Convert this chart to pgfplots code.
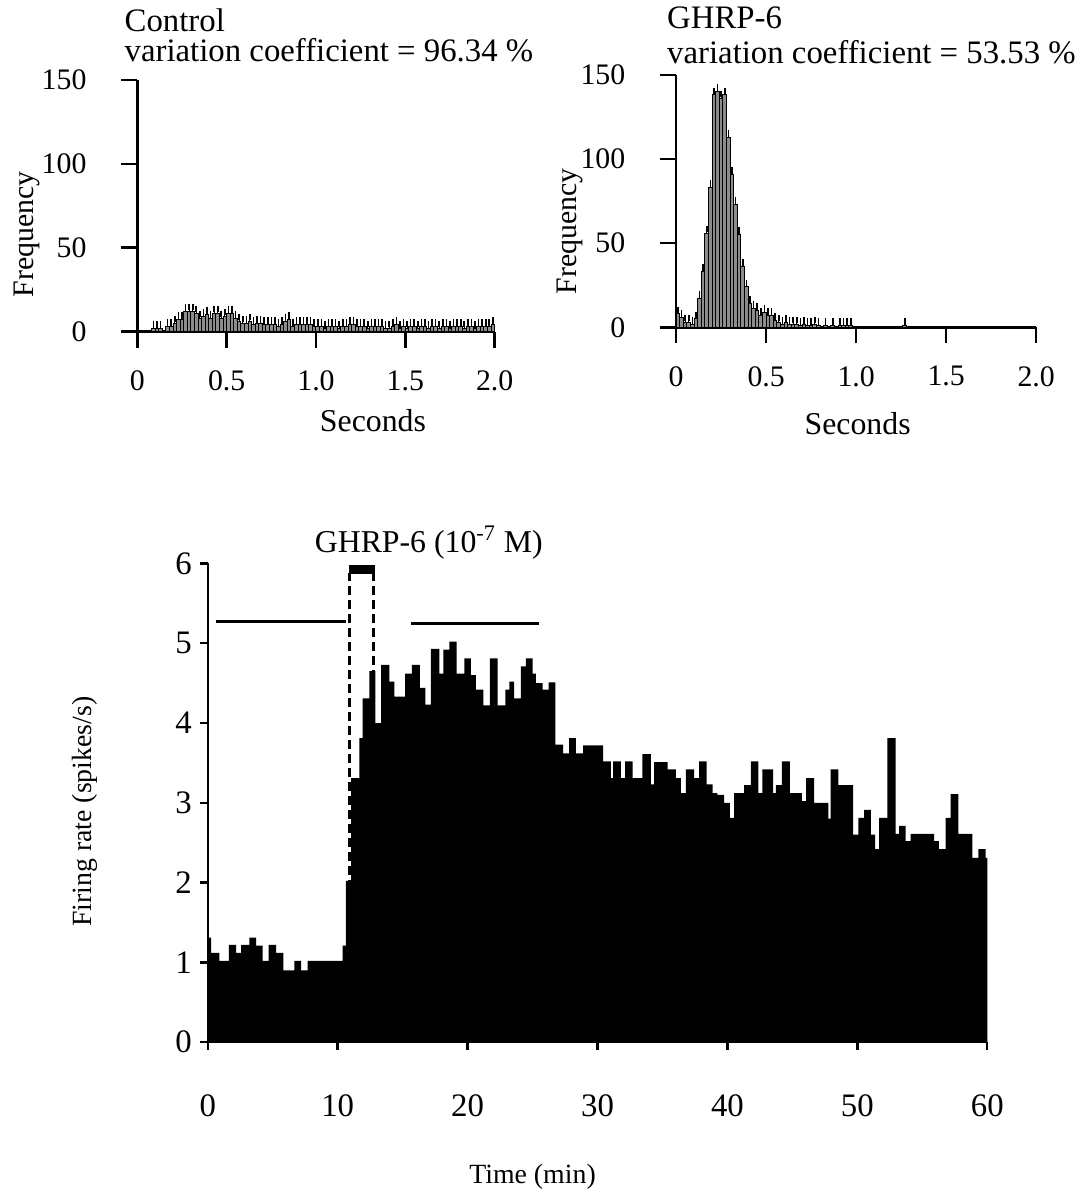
\documentclass[border=0pt]{standalone}
\usepackage{pgfplots}
\pgfplotsset{compat=1.18}
\usepackage{fontspec}
\setmainfont{Liberation Serif}
\pgfplotsset{myax/.style={scale only axis, anchor=south west,
  axis x line=bottom, axis y line=left, axis line style={-, line width=1.2bp},
  tick align=outside, tick style={line width=1.2bp, black}, clip=false,
  /pgf/number format/assume math mode=true},
  hbar/.style={ybar, bar width=0.02, fill=black!45, draw=black, line width=0.5bp,
  error bars/.cd, y dir=plus, y fixed=2.5, error bar style={line width=0.6bp},
  error mark options={mark size=1.6bp, line width=0.8bp}}}
\begin{document}
\begin{tikzpicture}[x=1bp,y=1bp]
\path (0,0) rectangle (538,598);
% ---------- top left: control ----------
\begin{axis}[myax, at={(68.85bp,431.75bp)}, width=179.15bp, height=126.25bp,
  xmin=0, xmax=2, ymin=0, ymax=150,
  xtick={0,0.5,1,1.5,2}, xticklabels={0,0.5,1.0,1.5,2.0},
  ytick={0,50,100,150},
  major tick length=8bp,
  ticklabel style={font=\fontsize{15}{17}\selectfont},
  xticklabel style={yshift=-8bp}, yticklabel style={xshift=-14bp}]
\addplot[hbar] coordinates {
(0.09,2)(0.11,2)(0.13,2)(0.17,3)(0.19,3)(0.21,5)(0.23,7)(0.25,7)(0.27,12)(0.29,12)(0.31,12)(0.33,11)(0.35,8)(0.37,9)(0.39,10)(0.41,8)(0.43,11)(0.45,11)(0.47,8)(0.49,9)(0.51,11)(0.53,11)(0.55,8)(0.57,6)(0.59,5)(0.61,5)(0.63,6)(0.65,4)(0.67,5)(0.69,5)(0.71,4)(0.73,4)(0.75,4)(0.77,4)(0.79,3)(0.81,4)(0.83,6)(0.85,7)(0.87,3)(0.89,4)(0.91,4)(0.93,4)(0.95,4)(0.97,4)(0.99,3)
(1.01,3)(1.03,3)(1.05,2)(1.07,3)(1.09,3)(1.11,3)(1.13,2)(1.15,3)(1.17,3)(1.19,4)(1.21,4)(1.23,3)(1.25,3)(1.27,3)(1.29,2)(1.31,3)(1.33,3)(1.35,3)(1.37,3)(1.39,2)(1.41,2)(1.43,3)(1.45,4)(1.47,2)(1.49,3)(1.51,2)(1.53,3)(1.55,3)(1.57,2)(1.59,3)(1.61,3)(1.63,2)(1.65,3)(1.67,3)(1.69,2)(1.71,3)(1.73,3)(1.75,2)(1.77,3)(1.79,3)(1.81,3)(1.83,2)(1.85,3)(1.87,3)(1.89,2)(1.91,3)(1.93,3)(1.95,3)(1.97,3)(1.99,4)};
\end{axis}
% ---------- top right: GHRP-6 ----------
\begin{axis}[myax, at={(339bp,433.85bp)}, width=180.5bp, height=126.65bp,
  xmin=0, xmax=2, ymin=0, ymax=150,
  xtick={0,0.5,1,1.5,2}, xticklabels={0,0.5,1.0,1.5,2.0},
  ytick={0,50,100,150},
  major tick length=8bp,
  ticklabel style={font=\fontsize{15}{17}\selectfont},
  xticklabel style={yshift=-8bp}, yticklabel style={xshift=-14bp}]
\addplot[hbar] coordinates {
(0.01,8)(0.03,6)(0.05,3)(0.07,3)(0.09,2)(0.11,5)(0.13,17)(0.15,33)(0.17,56)(0.19,83)(0.21,138)(0.23,140)(0.25,136)(0.27,138)(0.29,113)(0.31,91)(0.33,73)(0.35,55)(0.37,36)(0.39,24)(0.41,14)(0.43,11)(0.45,10)(0.47,7)(0.49,9)(0.51,7)(0.53,7)(0.55,4)(0.57,3)(0.59,2)(0.61,3)(0.63,2)(0.65,2)(0.67,2)(0.69,1)(0.71,2)(0.73,1)(0.75,1)(0.77,2)(0.79,1)(0.83,1)(0.87,1)(0.91,1)(0.93,1)(0.95,1)(0.97,1)(1.27,1)};
\end{axis}
% ---------- bottom: firing rate ----------
\begin{axis}[myax, at={(104.15bp,75.5bp)}, width=390.85bp, height=240bp,
  xmin=0, xmax=60, ymin=0, ymax=6,
  xtick={0,10,...,60}, ytick={0,1,...,6},
  major tick length=4bp,
  ticklabel style={font=\fontsize{16.5}{19}\selectfont},
  xticklabel style={yshift=-19bp}, yticklabel style={xshift=-0.5bp}]
\addplot[const plot, fill=black, draw=none] coordinates {
(0,1.31)(0.26,1.12)(0.9,1.02)(1.62,1.22)(2.18,1.12)(2.57,1.22)(3.21,1.31)(3.72,1.21)(4.23,1.02)(4.69,1.22)(5.26,1.12)(5.82,0.9)(6.67,1.02)(7.18,0.9)(7.69,1.02)(10.39,1.21)(10.64,2.02)(11.03,3.31)(11.67,3.81)(11.93,4.31)(12.44,4.65)(12.9,4.0)(13.34,4.73)(13.98,4.52)(14.36,4.33)
(15.2,4.62)(15.72,4.73)(16.33,4.44)(16.75,4.23)(17.18,4.93)(17.82,4.62)(18.13,4.92)(18.59,5.02)(19.16,4.62)(19.75,4.81)(20.26,4.6)(20.64,4.42)(21.21,4.22)(21.72,4.81)(22.31,4.22)(22.9,4.42)(23.21,4.52)(23.59,4.31)(24.11,4.71)(24.49,4.81)(25.0,4.62)(25.26,4.5)(25.77,4.42)(26.23,4.51)(26.75,3.73)(27.36,3.62)(27.82,3.81)(28.33,3.62)(28.9,3.72)
(30.44,3.52)(31.03,3.31)(31.21,3.52)(31.8,3.31)(32.13,3.52)(32.7,3.31)(33.46,3.61)(34.1,3.23)(34.36,3.51)(35.39,3.42)(36.03,3.31)(36.41,3.12)(36.8,3.42)(37.44,3.31)(37.82,3.52)(38.39,3.23)(38.85,3.12)(39.23,3.1)(39.74,3.0)(40.18,2.81)(40.51,3.12)(41.28,3.22)(41.8,3.52)(42.39,3.12)(42.69,3.42)(43.51,3.12)(43.72,3.22)(44.18,3.52)(44.8,3.12)(45.72,3.02)
(46.05,3.31)(46.67,3.0)(47.77,2.8)(47.95,3.42)(48.54,3.22)(49.67,2.6)(50.08,2.81)(50.52,2.91)(51.03,2.6)(51.36,2.42)(51.67,2.81)(52.31,3.81)(52.95,2.61)(53.21,2.71)(53.72,2.52)(54.1,2.61)(55.9,2.52)(56.28,2.42)(56.8,2.81)(57.18,3.11)(57.77,2.61)(58.85,2.31)(59.31,2.42)(59.87,2.31)(60,2.31)} \closedcycle;
% period bars and application markers
\addplot[line width=1.6bp] coordinates {(0.65,5.27) (10.65,5.27)};
\addplot[line width=1.6bp] coordinates {(15.65,5.25) (25.5,5.25)};
\addplot[line width=4.5bp] coordinates {(10.85,5.93) (12.85,5.93)};
\addplot[line width=1.5bp, dash pattern=on 4.5bp off 2.5bp] coordinates {(10.9,0) (10.9,5.88)};
\addplot[line width=1.5bp, dash pattern=on 4.5bp off 2.5bp] coordinates {(12.75,0) (12.75,5.88)};
\end{axis}
% ---------- texts ----------
\node[anchor=west, font=\fontsize{16.5}{19}\selectfont] at (59,588) {Control};
\node[anchor=west, font=\fontsize{16.5}{19}\selectfont] at (59,573) {variation coefficient = 96.34 \%};
\node[anchor=west, font=\fontsize{16.5}{19}\selectfont] at (331,589) {GHRP-6};
\node[anchor=west, font=\fontsize{16.5}{19}\selectfont] at (331,572) {variation coefficient = 53.53 \%};
\node[rotate=90, font=\fontsize{15}{17}\selectfont] at (13.5,480.5) {Frequency};
\node[rotate=90, font=\fontsize{15}{17}\selectfont] at (286,482) {Frequency};
\node[font=\fontsize{16}{18}\selectfont] at (187,387) {Seconds};
\node[font=\fontsize{16}{18}\selectfont] at (430,385.5) {Seconds};
\node[font=\fontsize{16}{18}\selectfont] at (215,326) {GHRP-6 (10\textsuperscript{-7} M)};
\node[rotate=90, font=\fontsize{14}{16}\selectfont] at (42.5,191) {Firing rate (spikes/s)};
\node[font=\fontsize{14}{16}\selectfont] at (267,8) {Time (min)};
\end{tikzpicture}
\end{document}
